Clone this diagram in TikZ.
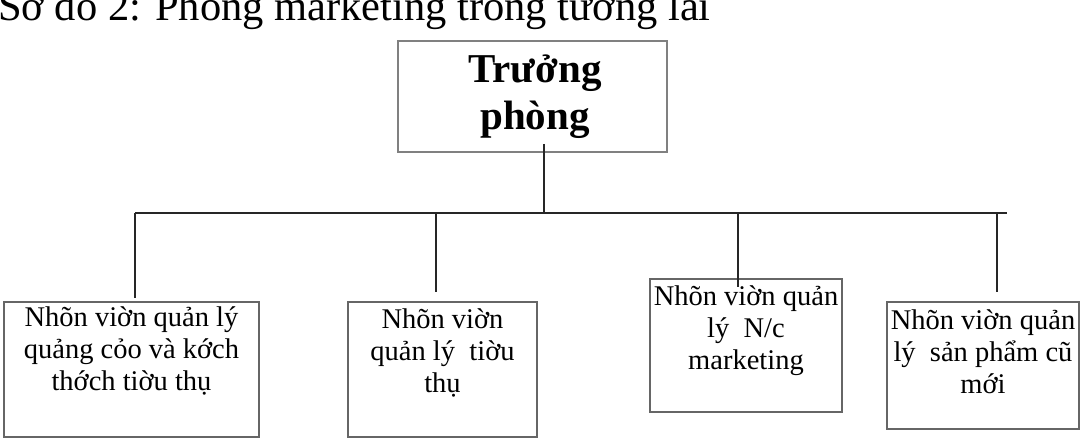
\documentclass[tikz,border=0pt]{standalone}
\usepackage{fontspec}
\setmainfont{Liberation Serif}
\usetikzlibrary{positioning}
\begin{document}
\begin{tikzpicture}[x=1pt,y=-1pt,
  head node/.style={rectangle,draw=black!50,line width=1.3pt,inner sep=0pt},
  unit node/.style={rectangle,draw=black!60,line width=1.3pt,inner sep=0pt},
  head text/.style={align=center,inner sep=0pt,anchor=base,
    font=\fontsize{41}{47}\selectfont\bfseries},
  unit text/.style={align=center,inner sep=0pt,anchor=base,
    font=\fontsize{28.5}{32}\selectfont},
  link/.style={draw=black!85,line width=1.6pt}]

  \useasboundingbox (0,0) rectangle (1080,443);
  \node[anchor=base west,inner sep=0pt,font=\fontsize{42.5}{48}\selectfont] (title) at (-2,21)
    {Sơ đồ 2: Phòng marketing trong tương lai};

  \node[head node,minimum width=269pt,minimum height=111pt] (head) at (532.5,96.5) {};
  % anchor=base sits on the last line
  \node[head text] (headtxt) at (535,130) {Trưởng\\phòng};

  \node[unit node,minimum width=255pt,minimum height=135pt] (u1) at (131.5,369.5) {};
  \node[unit node,minimum width=189pt,minimum height=135pt] (u2) at (442.5,369.5) {};
  \node[unit node,minimum width=192pt,minimum height=133pt] (u3) at (746,345.5) {};
  \node[unit node,minimum width=192pt,minimum height=127pt] (u4) at (983,365.5) {};

  \node[unit text] (t1) at (131.5,391) {Nhõn viờn quản lý\\quảng cỏo và kớch\\thớch tiờu thụ};
  \node[unit text] (t2) at (442.5,393) {Nhõn viờn\\quản lý~ tiờu\\thụ};
  \node[unit text] (t3) at (746,370) {Nhõn viờn quản\\lý~ N/c\\marketing};
  \node[unit text] (t4) at (983,394) {Nhõn viờn quản\\lý~ sản phẩm cũ\\mới};

  % bus line and drops
  \coordinate (bus west) at (135,213);
  \coordinate (bus east) at (1007,213);
  \coordinate (top drop) at (544,144);
  \coordinate (d1) at (135,298);
  \coordinate (d2) at (436,292);
  \coordinate (d3) at (738,287);
  \coordinate (d4) at (997,292);

  \draw[link] (bus west) -- (bus east);
  \draw[link] (top drop) -- (top drop |- bus west);
  \foreach \i in {1,...,4}
    \draw[link] (d\i |- bus west) -- (d\i);
\end{tikzpicture}
\end{document}
